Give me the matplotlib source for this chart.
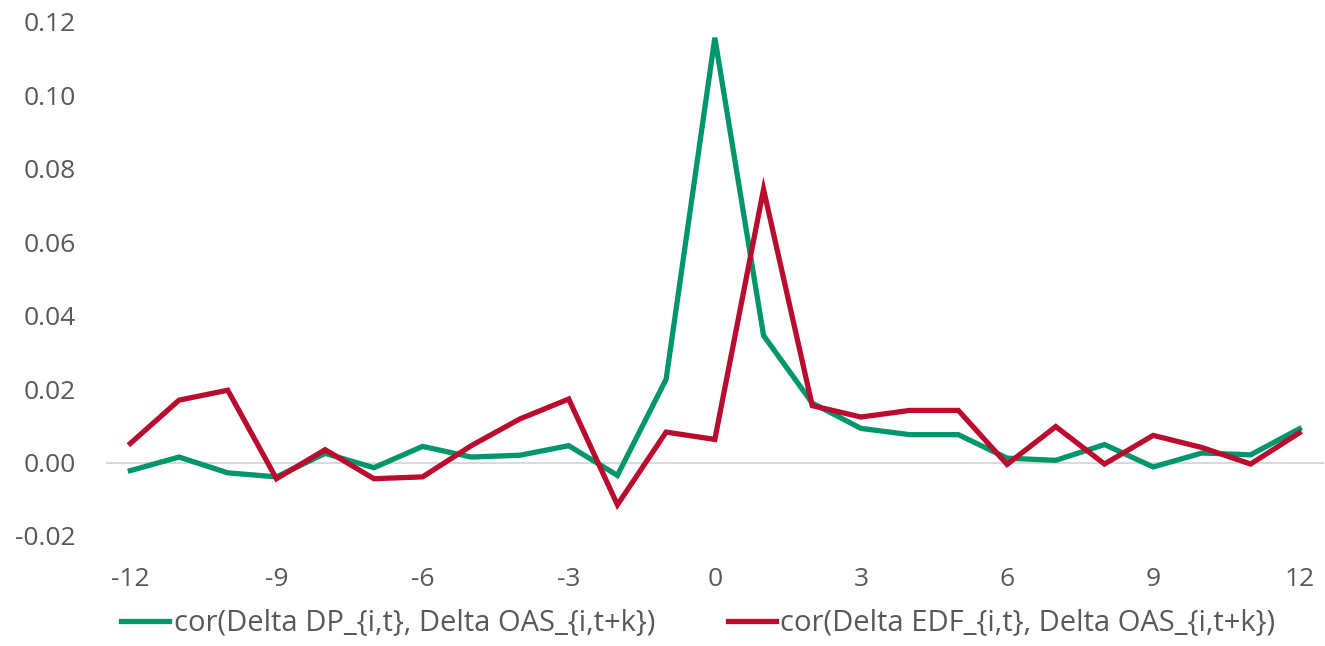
import matplotlib
matplotlib.use("Agg")
import matplotlib.pyplot as plt

# Lags k
lags = list(range(-12, 13))

# cor(Delta DP_{i,t}, Delta OAS_{i,t+k})
dp_corr = [-0.0022, 0.0015, -0.0028, -0.0039, 0.0025, -0.0014, 0.0044, 0.0015,
           0.0020, 0.0046, -0.0035, 0.0227, 0.1157, 0.0346, 0.0162, 0.0093,
           0.0076, 0.0076, 0.0012, 0.0006, 0.0049, -0.0012, 0.0026, 0.0021,
           0.0092]

# cor(Delta EDF_{i,t}, Delta OAS_{i,t+k})
edf_corr = [0.0052, 0.0170, 0.0197, -0.0044, 0.0035, -0.0044, -0.0039, 0.0046,
            0.0119, 0.0173, -0.0115, 0.0083, 0.0063, 0.0744, 0.0155, 0.0124,
            0.0142, 0.0142, -0.0005, 0.0098, -0.0004, 0.0074, 0.0041, -0.0004,
            0.0081]

series_labels = ["cor(Delta DP_{i,t}, Delta OAS_{i,t+k})",
                 "cor(Delta EDF_{i,t}, Delta OAS_{i,t+k})"]

x_ticks = [-12, -9, -6, -3, 0, 3, 6, 9, 12]
y_ticks = [-0.02, 0.00, 0.02, 0.04, 0.06, 0.08, 0.10, 0.12]

GREEN = "#00966C"
RED = "#BA0C2F"
TEXT = "#595959"

plt.rcParams["font.family"] = ["Open Sans", "DejaVu Sans"]

fig = plt.figure(figsize=(13.25, 6.46), dpi=100)
ax = fig.add_axes([0.080, 0.1703, 0.919, 0.7957])

ax.axhline(0, color="#d9d9d9", lw=1.5, zorder=1)
ax.plot(lags, dp_corr, color=GREEN, lw=3.8, solid_joinstyle="miter",
        label=series_labels[0], zorder=3)
ax.plot(lags, edf_corr, color=RED, lw=3.8, solid_joinstyle="miter",
        label=series_labels[1], zorder=4)

ax.set_xlim(-12.5, 12.5)
ax.set_ylim(-0.02, 0.12)
ax.set_xticks(x_ticks)
ax.set_xticklabels([str(v) for v in x_ticks])
ax.set_yticks(y_ticks)
ax.set_yticklabels([f"{v:.2f}" for v in y_ticks])

for s in ax.spines.values():
    s.set_visible(False)
ax.tick_params(axis="both", length=0, labelsize=19, colors=TEXT)
ax.tick_params(axis="x", pad=22)
ax.tick_params(axis="y", pad=22)

leg = fig.legend(loc="lower center", bbox_to_anchor=(0.527, -0.028), ncol=2,
                 frameon=False, handlelength=1.65, handletextpad=0.14,
                 columnspacing=2.5, prop={"size": 21})
for t in leg.get_texts():
    t.set_color(TEXT)

fig.savefig("out.png", dpi=100)
